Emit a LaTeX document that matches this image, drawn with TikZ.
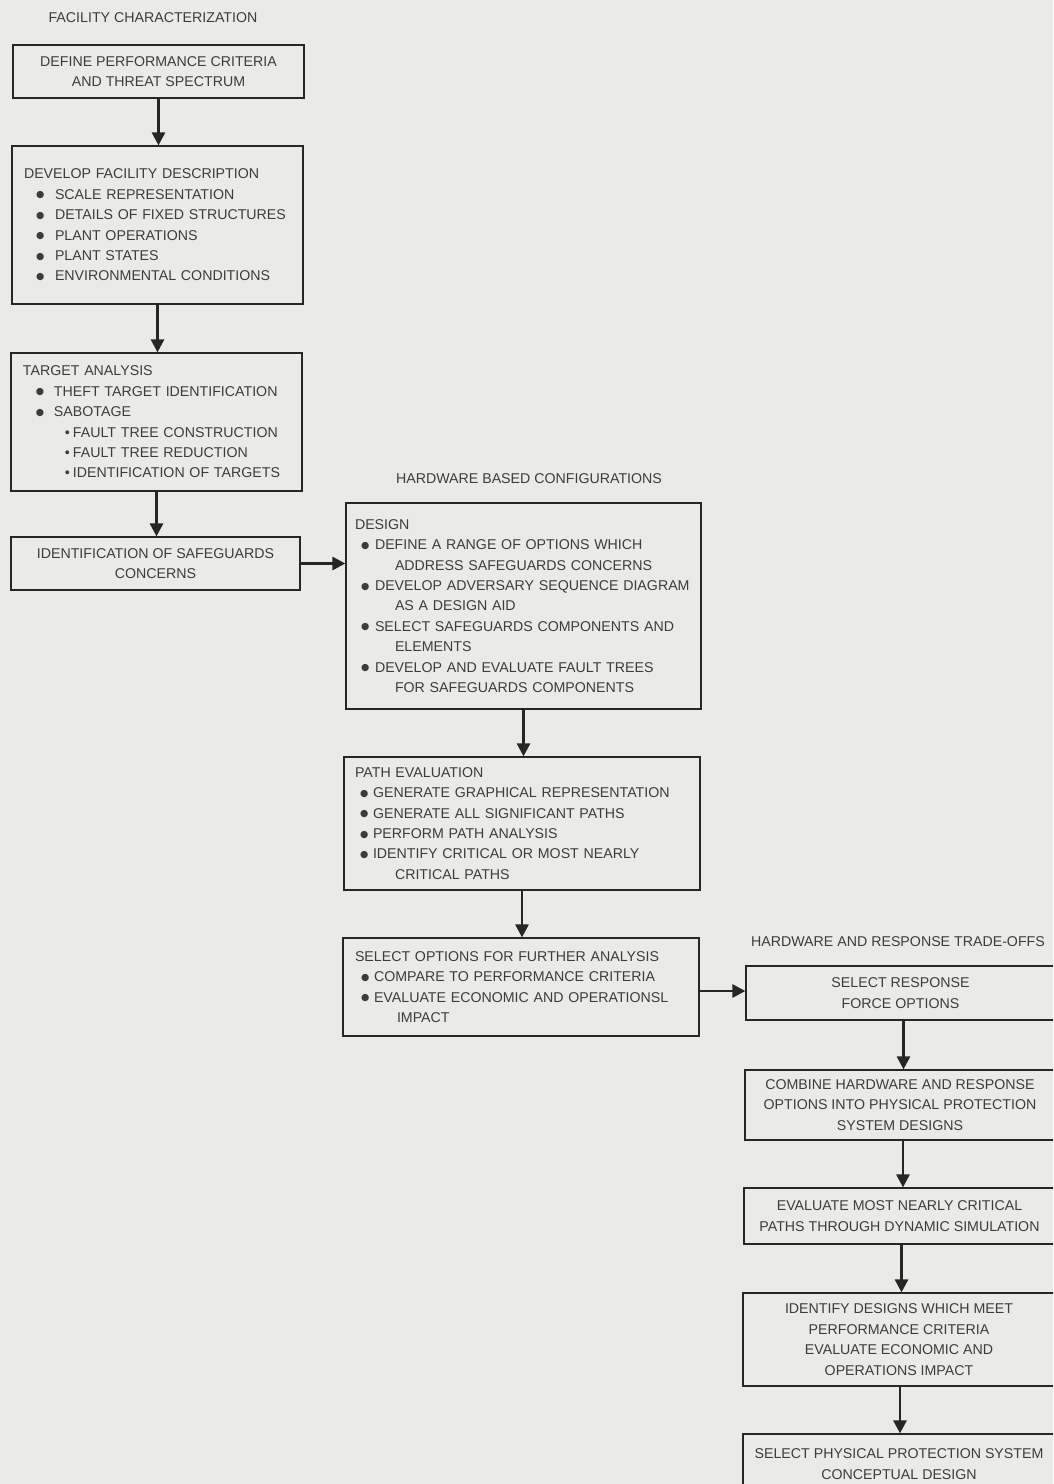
\documentclass[tikz,border=0pt]{standalone}
\usepackage{fontspec}
\setmainfont{Liberation Sans}
\newfontfamily\symfont{DejaVu Sans}
\usetikzlibrary{arrows.meta}

\definecolor{paper}{RGB}{234,234,230}
\definecolor{ink}{RGB}{38,38,38}
\definecolor{print}{RGB}{60,60,60}

% bullets and indented list lines
\newcommand\bigdot{\raisebox{1.4pt}{\symfont\fontsize{9.5}{9.5}\selectfont ●}}
\newcommand\smalldot{\textbullet}
\newcommand\bitem[3]{\mbox{\hspace*{#1}\makebox[#2][l]{\bigdot}#3}}
\newcommand\sitem[3]{\mbox{\hspace*{#1}\makebox[#2][l]{\smalldot}#3}}
\newcommand\contline[2]{\mbox{\hspace*{#1}#2}}

\begin{document}
\begin{tikzpicture}[x=1pt,y=-1pt,
  box/.style={draw=ink, line width=1.2pt, rectangle, inner ysep=0pt,
    text=print, font=\fontsize{14.2}{20.4}\selectfont},
  listbox/.style={box, align=left},
  cbox/.style={box, align=center, inner xsep=4pt},
  heading/.style={text=print, font=\fontsize{14.2}{20.4}\selectfont, inner sep=0pt},
  flow/.style={draw=ink, line width=2.8pt, -{Triangle[length=13pt,width=13pt]}}]

\fill[paper] (0,0) rectangle (1053,1484);
\useasboundingbox (0,0) rectangle (1053,1484);
\clip (0,0) rectangle (1053,1484);

% column headings
\node[heading] (h1) at (153,18) {FACILITY CHARACTERIZATION};
\node[heading] (h2) at (529,479) {HARDWARE BASED CONFIGURATIONS};
\node[heading] (h3) at (898,942) {HARDWARE AND RESPONSE TRADE-OFFS};

% facility characterization
\node[cbox, minimum width=291pt, minimum height=53pt] (b1) at (158.5,71.5)
  {DEFINE PERFORMANCE CRITERIA\\AND THREAT SPECTRUM};

\node[listbox, inner xsep=12pt, text width=267pt, minimum width=291pt, minimum height=158pt] (b2) at (157.5,225)
  {\mbox{DEVELOP FACILITY DESCRIPTION}\\
   \bitem{12pt}{19pt}{SCALE REPRESENTATION}\\
   \bitem{12pt}{19pt}{DETAILS OF FIXED STRUCTURES}\\
   \bitem{12pt}{19pt}{PLANT OPERATIONS}\\
   \bitem{12pt}{19pt}{PLANT STATES}\\
   \bitem{12pt}{19pt}{ENVIRONMENTAL CONDITIONS}};

\node[listbox, inner xsep=12pt, text width=267pt, minimum width=291pt, minimum height=138pt] (b3) at (156.5,422)
  {\mbox{TARGET ANALYSIS}\\
   \bitem{13pt}{18pt}{THEFT TARGET IDENTIFICATION}\\
   \bitem{13pt}{18pt}{SABOTAGE}\\
   \sitem{42pt}{8pt}{FAULT TREE CONSTRUCTION}\\
   \sitem{42pt}{8pt}{FAULT TREE REDUCTION}\\
   \sitem{42pt}{8pt}{IDENTIFICATION OF TARGETS}};

\node[cbox, minimum width=289pt, minimum height=53pt] (b4) at (155.5,563.5)
  {IDENTIFICATION OF SAFEGUARDS\\CONCERNS};

% hardware based configurations
\node[listbox, inner xsep=9pt, text width=337pt, minimum width=355pt, minimum height=206pt] (b5) at (523.5,606)
  {\mbox{DESIGN}\\
   \bitem{6pt}{14pt}{DEFINE A RANGE OF OPTIONS WHICH}\\
   \contline{40pt}{ADDRESS SAFEGUARDS CONCERNS}\\
   \bitem{6pt}{14pt}{DEVELOP ADVERSARY SEQUENCE DIAGRAM}\\
   \contline{40pt}{AS A DESIGN AID}\\
   \bitem{6pt}{14pt}{SELECT SAFEGUARDS COMPONENTS AND}\\
   \contline{40pt}{ELEMENTS}\\
   \bitem{6pt}{14pt}{DEVELOP AND EVALUATE FAULT TREES}\\
   \contline{40pt}{FOR SAFEGUARDS COMPONENTS}};

\node[listbox, inner xsep=11pt, text width=334pt, minimum width=356pt, minimum height=133pt] (b6) at (522,823.5)
  {\mbox{PATH EVALUATION}\\
   \bitem{5pt}{13pt}{GENERATE GRAPHICAL REPRESENTATION}\\
   \bitem{5pt}{13pt}{GENERATE ALL SIGNIFICANT PATHS}\\
   \bitem{5pt}{13pt}{PERFORM PATH ANALYSIS}\\
   \bitem{5pt}{13pt}{IDENTIFY CRITICAL OR MOST NEARLY}\\
   \contline{40pt}{CRITICAL PATHS}};

\node[listbox, inner xsep=12pt, text width=332pt, minimum width=356pt, minimum height=98pt] (b7) at (521,987)
  {\mbox{SELECT OPTIONS FOR FURTHER ANALYSIS}\\
   \bitem{6pt}{13pt}{COMPARE TO PERFORMANCE CRITERIA}\\
   \bitem{6pt}{13pt}{EVALUATE ECONOMIC AND OPERATIONSL}\\
   \contline{42pt}{IMPACT}};

% hardware and response trade-offs
\node[cbox, minimum width=309pt, minimum height=54pt] (b8) at (900.5,993)
  {SELECT RESPONSE\\FORCE OPTIONS};
\node[cbox, minimum width=310pt, minimum height=70pt] (b9) at (900,1105)
  {COMBINE HARDWARE AND RESPONSE\\OPTIONS INTO PHYSICAL PROTECTION\\SYSTEM DESIGNS};
\node[cbox, minimum width=311pt, minimum height=56pt] (b10) at (899.5,1216)
  {EVALUATE MOST NEARLY CRITICAL\\PATHS THROUGH DYNAMIC SIMULATION};
\node[cbox, minimum width=312pt, minimum height=93pt] (b11) at (899,1339.5)
  {IDENTIFY DESIGNS WHICH MEET\\PERFORMANCE CRITERIA\\EVALUATE ECONOMIC AND\\OPERATIONS IMPACT};
\node[cbox, minimum width=312pt, minimum height=60pt] (b12) at (899,1464)
  {SELECT PHYSICAL PROTECTION SYSTEM\\CONCEPTUAL DESIGN};

% flow connectors
\draw[flow] (b1.south) -- (b1.south |- b2.north);
\draw[flow] (b2.south) -- (b2.south |- b3.north);
\draw[flow] (b3.south) -- (b3.south |- b4.north);
\draw[flow] (b4.east) -- (b4.east -| b5.west);
\draw[flow] (b5.south) -- (b5.south |- b6.north);
\draw[flow] (b6.south) -- (b6.south |- b7.north);
\draw[flow] ([yshift=-4pt]b7.east) -- ([yshift=-4pt]b7.east -| b8.west);
\draw[flow] ([xshift=3pt]b8.south) -- ([xshift=3pt]b8.south |- b9.north);
\draw[flow] ([xshift=3pt]b9.south) -- ([xshift=3pt]b9.south |- b10.north);
\draw[flow] ([xshift=2pt]b10.south) -- ([xshift=2pt]b10.south |- b11.north);
\draw[flow] ([xshift=1pt]b11.south) -- ([xshift=1pt]b11.south |- b12.north);
\end{tikzpicture}
\end{document}
